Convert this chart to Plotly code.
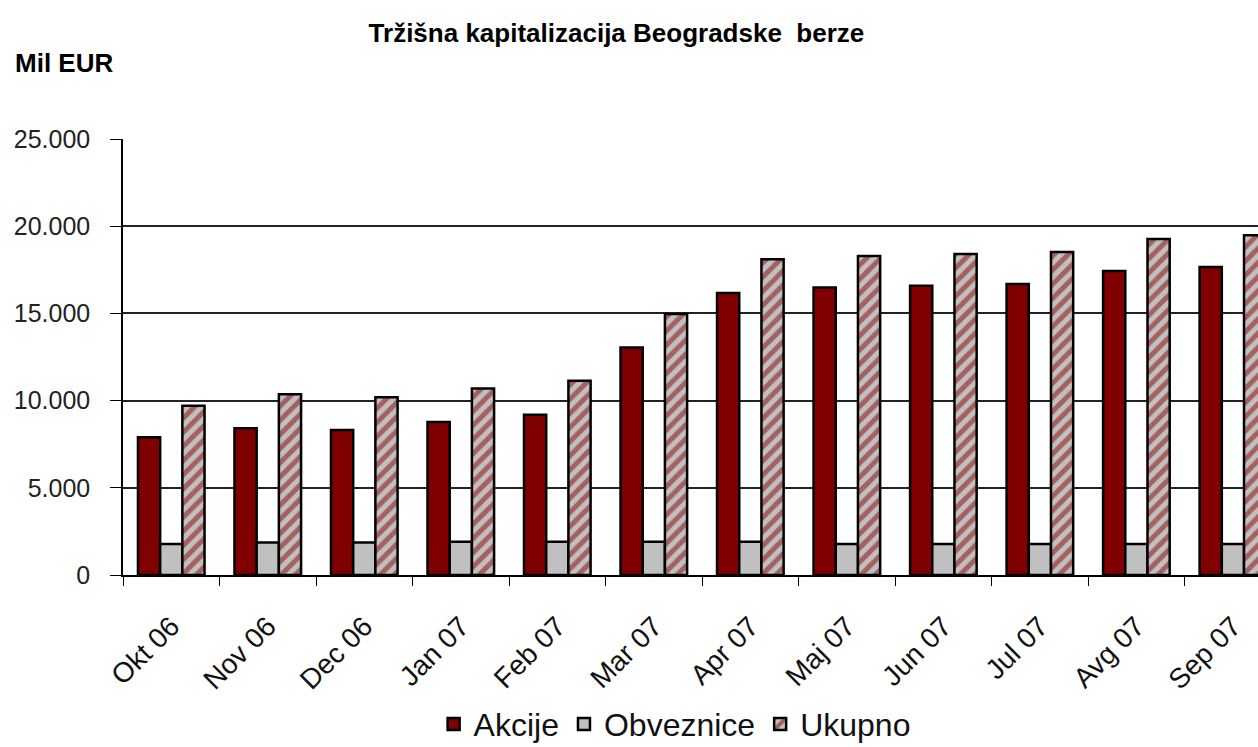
import plotly.graph_objects as go

categories = ["Okt 06", "Nov 06", "Dec 06", "Jan 07", "Feb 07", "Mar 07",
              "Apr 07", "Maj 07", "Jun 07", "Jul 07", "Avg 07", "Sep 07"]
akcije = [7900, 8410, 8310, 8770, 9190, 13050, 16170, 16490, 16590, 16690, 17430, 17660]
obveznice = [1780, 1870, 1870, 1910, 1910, 1910, 1910, 1780, 1780, 1780, 1780, 1780]
ukupno = [9700, 10360, 10190, 10700, 11140, 14970, 18100, 18290, 18410, 18520, 19270, 19480]

tick_vals = [0, 5000, 10000, 15000, 20000, 25000]
tick_text = ["0", "5.000", "10.000", "15.000", "20.000", "25.000"]

font_fam = "Liberation Sans, Arial, sans-serif"
outline = dict(color="black", width=2.5)

fig = go.Figure()
fig.add_trace(go.Bar(name="Akcije", x=categories, y=akcije,
                     marker=dict(color="#800000", line=outline)))
fig.add_trace(go.Bar(name="Obveznice", x=categories, y=obveznice,
                     marker=dict(color="#C0C0C0", line=outline)))
fig.add_trace(go.Bar(name="Ukupno", x=categories, y=ukupno,
                     marker=dict(color="#C0C0C0", line=outline,
                                 pattern=dict(shape="/", fgcolor="#8B0000",
                                              bgcolor="#C0C0C0", size=10,
                                              solidity=0.5, fillmode="overlay"))))

fig.update_layout(
    width=1258, height=747,
    paper_bgcolor="white", plot_bgcolor="white",
    barmode="group", bargap=0.31, bargroupgap=0,
    margin=dict(l=123, r=0, t=139, b=172, autoexpand=False),
    font=dict(family=font_fam, color="#222"),
    title=dict(text="<b>Tržišna kapitalizacija Beogradske  berze</b>",
               x=0.49, xanchor="center", y=0.956, yanchor="middle",
               font=dict(size=26, color="black")),
    showlegend=True,
    legend=dict(orientation="h", x=0.486, xanchor="center",
                y=-0.342, yanchor="middle",
                font=dict(size=32, color="#111"), itemwidth=30, traceorder="normal",
                bgcolor="rgba(0,0,0,0)"),
    annotations=[dict(text="<b>Mil EUR</b>", xref="paper", yref="paper",
                      x=-0.097, xanchor="left", y=1.175, yanchor="middle",
                      showarrow=False, font=dict(size=26, color="black"))],
)
fig.update_xaxes(type="category", range=[-0.5, 11.26], showline=True, linecolor="black",
                 linewidth=1.5, ticks="outside", tickson="boundaries", ticklen=9,
                 tickcolor="black", tickangle=-45, tickfont=dict(size=28, color="#111"),
                 ticklabelstandoff=22, showgrid=False, automargin=False)
fig.update_yaxes(range=[0, 25000], tickvals=tick_vals, ticktext=tick_text,
                 showline=True, linecolor="black", linewidth=1.5, ticks="outside",
                 ticklen=11, tickcolor="black", showgrid=True, gridcolor="#222",
                 gridwidth=1.5, tickfont=dict(size=25, color="#222"), zeroline=False,
                 ticklabelstandoff=15, automargin=False)

fig.write_html("out.html", config={"displayModeBar": False},
               post_script="document.body.style.margin='0';document.body.style.overflow='hidden';")
